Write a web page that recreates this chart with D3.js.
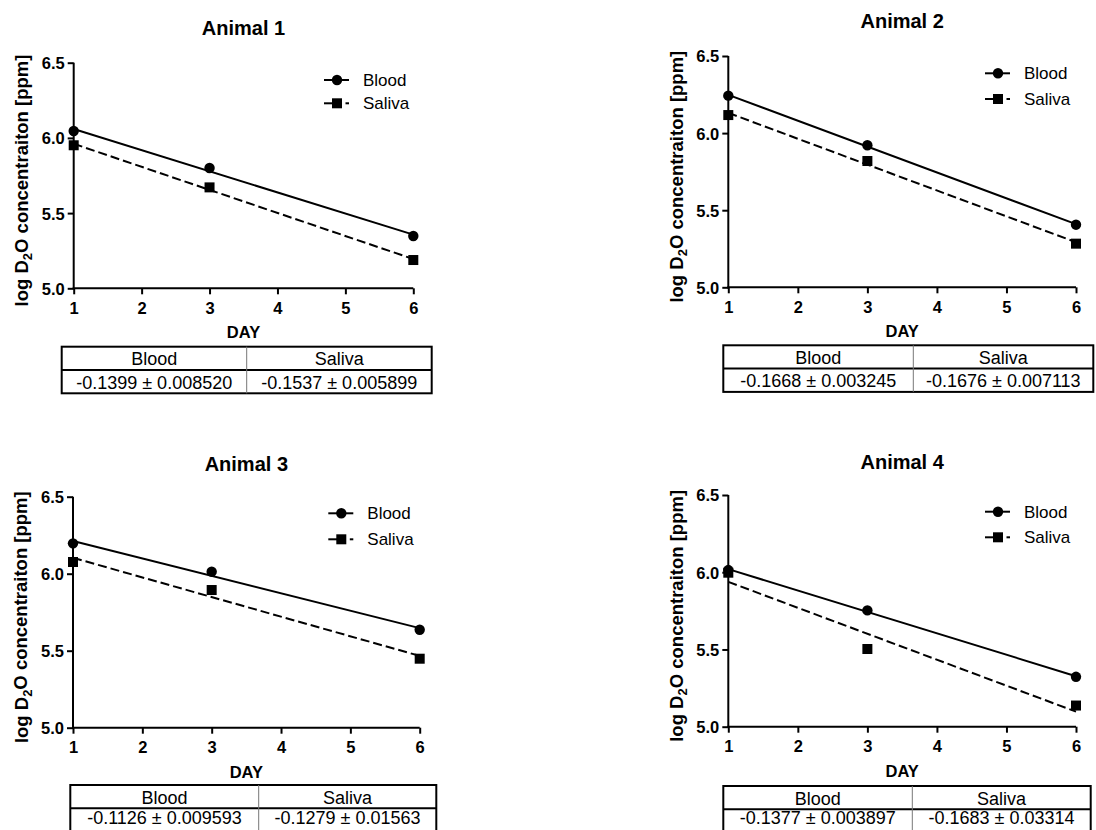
<!DOCTYPE html>
<html><head><meta charset="utf-8">
<script src="https://cdn.jsdelivr.net/npm/d3@7"></script>
<style>
html,body{margin:0;padding:0;background:#fff;}
svg text{font-family:"Liberation Sans",Arial,sans-serif;fill:#000;}
</style></head>
<body>
<svg id="chart" width="1096" height="830"></svg>
<script>
// ---- data ----
const days = [1, 3, 6];
const titles = ["Animal 1", "Animal 2", "Animal 3", "Animal 4"];
const seriesNames = ["Blood", "Saliva"];
const blood1 = [6.046, 5.800, 5.348];
const saliva1 = [5.951, 5.671, 5.188];
const blood2 = [6.243, 5.921, 5.406];
const saliva2 = [6.117, 5.819, 5.283];
const blood3 = [6.197, 6.013, 5.636];
const saliva3 = [6.076, 5.894, 5.448];
const blood4 = [6.014, 5.753, 5.323];
const saliva4 = [5.997, 5.503, 5.137];
const bloodSlopes = ["-0.1399 ± 0.008520", "-0.1668 ± 0.003245", "-0.1126 ± 0.009593", "-0.1377 ± 0.003897"];
const salivaSlopes = ["-0.1537 ± 0.005899", "-0.1676 ± 0.007113", "-0.1279 ± 0.01563", "-0.1683 ± 0.03314"];
const xTicks = [1, 2, 3, 4, 5, 6];
const yTicks = [5.0, 5.5, 6.0, 6.5];
const yDomain = [5.0, 6.5];
const xDomain = [1, 6];
const xLabel = "DAY";

const bloodAll = [blood1, blood2, blood3, blood4];
const salivaAll = [saliva1, saliva2, saliva3, saliva4];

// ---- layout ----
const layout = [
  {l:73.7, r:413.3, t:62.7, b:288.3, tl:61.7, td:246.7, tr:431.7, tt:346.7, vOff:0, legX:324, legY:80, legDy:23.3, titleY:27.7},
  {l:728.3, r:1076, t:56, b:287.3, tl:723.3, td:913.3, tr:1093.3, tt:345.3, vOff:0, legX:985, legY:73.3, legDy:25.7, titleY:20.7},
  {l:73, r:419.7, t:496.7, b:727.7, tl:70.3, td:258.7, tr:436.3, tt:785, vOff:-2.5, legX:328.3, legY:513.3, legDy:26, titleY:463.3},
  {l:728.3, r:1076, t:495, b:726.7, tl:723.3, td:912.3, tr:1090.7, tt:786, vOff:-3.5, legX:985, legY:511.7, legDy:25.6, titleY:461.7}
];

const svg = d3.select("#chart");

function fit(xs, ys) {
  const mx = d3.mean(xs), my = d3.mean(ys);
  let sxy = 0, sxx = 0;
  xs.forEach((x, i) => { sxy += (x - mx) * (ys[i] - my); sxx += (x - mx) * (x - mx); });
  const m = sxy / sxx;
  return x => my + m * (x - mx);
}

function drawMarker(g, kind, cx, cy) {
  if (kind === 0) {
    g.append("circle").attr("cx", cx).attr("cy", cy).attr("r", 5.2).attr("fill", "#000");
  } else {
    g.append("rect").attr("x", cx - 5).attr("y", cy - 5).attr("width", 10).attr("height", 10).attr("fill", "#000");
  }
}

layout.forEach((L, i) => {
  const g = svg.append("g");
  const x = d3.scaleLinear().domain(xDomain).range([L.l, L.r]);
  const y = d3.scaleLinear().domain(yDomain).range([L.b, L.t]);

  // title
  g.append("text").attr("x", (L.l + L.r) / 2).attr("y", L.titleY).attr("dy", "0.36em")
    .attr("text-anchor", "middle").style("font-size", "20px").style("font-weight", "bold").text(titles[i]);

  // axes
  const ya = g.append("g").attr("transform", `translate(${L.l},0)`)
    .call(d3.axisLeft(y).tickValues(yTicks).tickFormat(d3.format(".1f")).tickSize(6).tickPadding(3).tickSizeOuter(0));
  const xa = g.append("g").attr("transform", `translate(0,${L.b})`)
    .call(d3.axisBottom(x).tickValues(xTicks).tickFormat(d3.format("d")).tickSize(6).tickPadding(8).tickSizeOuter(0));
  [ya, xa].forEach(a => {
    a.select(".domain").attr("stroke", "#000").attr("stroke-width", 2);
    a.selectAll(".tick line").attr("stroke", "#000").attr("stroke-width", 2);
    a.selectAll(".tick text").style("font-size", "16.5px").style("font-weight", "bold").attr("fill", "#000");
  });
  ya.selectAll(".tick text").attr("dy", "0.36em");
  ya.select(".domain").attr("d", `M0,${L.b + 1}V${L.t}`);
  xa.select(".domain").attr("d", `M${L.l - 1},0H${L.r}`);

  // y label
  const ylab = g.append("text")
    .attr("transform", `translate(${L.l - 52},${(L.t + L.b) / 2 + 5}) rotate(-90)`)
    .attr("text-anchor", "middle").attr("dy", "0.36em")
    .style("font-size", "18.5px").style("font-weight", "bold");
  ylab.append("tspan").text("log D");
  ylab.append("tspan").text("2").style("font-size", "13px").attr("dy", "0.3em");
  ylab.append("tspan").text("O concentraiton [ppm]").attr("dy", "-0.23em");

  // x label
  g.append("text").attr("x", (L.l + L.r) / 2).attr("y", L.b + 44).attr("dy", "0.36em")
    .attr("text-anchor", "middle").style("font-size", "16.5px").style("font-weight", "bold").text(xLabel);

  // series
  [bloodAll[i], salivaAll[i]].forEach((vals, k) => {
    const f = fit(days, vals);
    g.append("line").attr("x1", x(xDomain[0])).attr("y1", y(f(xDomain[0])))
      .attr("x2", x(xDomain[1])).attr("y2", y(f(xDomain[1])))
      .attr("stroke", "#000").attr("stroke-width", 2)
      .attr("stroke-dasharray", k === 1 ? "9,4" : null);
    vals.forEach((v, j) => drawMarker(g, k, x(days[j]), y(v)));
  });

  // legend
  seriesNames.forEach((name, k) => {
    const ly = L.legY + k * L.legDy;
    if (k === 0) {
      g.append("line").attr("x1", L.legX).attr("x2", L.legX + 25).attr("y1", ly).attr("y2", ly)
        .attr("stroke", "#000").attr("stroke-width", 2);
    } else {
      g.append("line").attr("x1", L.legX).attr("x2", L.legX + 9).attr("y1", ly).attr("y2", ly)
        .attr("stroke", "#000").attr("stroke-width", 2);
      g.append("line").attr("x1", L.legX + 21.5).attr("x2", L.legX + 25).attr("y1", ly).attr("y2", ly)
        .attr("stroke", "#000").attr("stroke-width", 2);
    }
    drawMarker(g, k, L.legX + 13, ly);
    g.append("text").attr("x", L.legX + 39).attr("y", ly).attr("dy", "0.36em")
      .style("font-size", "17px").text(name);
  });

  // table
  const rh = 23.3;
  const tb = g.append("g");
  tb.append("rect").attr("x", L.tl).attr("y", L.tt).attr("width", L.tr - L.tl).attr("height", rh * 2)
    .attr("fill", "#fff").attr("stroke", "#000").attr("stroke-width", 2);
  tb.append("line").attr("x1", L.tl).attr("x2", L.tr).attr("y1", L.tt + rh).attr("y2", L.tt + rh)
    .attr("stroke", "#000").attr("stroke-width", 2);
  tb.append("line").attr("x1", L.td).attr("x2", L.td).attr("y1", L.tt).attr("y2", L.tt + rh * 2)
    .attr("stroke", "#777").attr("stroke-width", 1);
  const cols = [[L.tl, L.td], [L.td, L.tr]];
  const vals = [bloodSlopes[i], salivaSlopes[i]];
  seriesNames.forEach((name, k) => {
    const cx = (cols[k][0] + cols[k][1]) / 2;
    tb.append("text").attr("x", cx).attr("y", L.tt + rh / 2 + 0.5).attr("dy", "0.36em")
      .attr("text-anchor", "middle").style("font-size", "18px").text(name);
    tb.append("text").attr("x", cx).attr("y", L.tt + rh * 1.5 + 0.5 + L.vOff).attr("dy", "0.36em")
      .attr("text-anchor", "middle").style("font-size", "18px").text(vals[k]);
  });
});
</script>
</body></html>
